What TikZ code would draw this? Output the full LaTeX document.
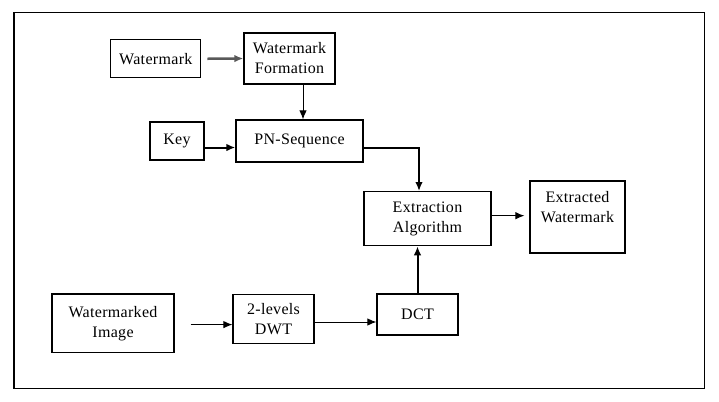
\documentclass[tikz,border=0pt]{standalone}
\usepackage{fontspec}
\setmainfont{Liberation Serif}[LetterSpace=2]
\usetikzlibrary{arrows.meta, positioning, calc}

\begin{document}
\begin{tikzpicture}[
        x=1pt, y=-1pt,
        block/.style={draw, line width=1.2pt, align=center, inner sep=0pt, font=\fontsize{16}{20}\selectfont},
        line/.style={line width=1pt},
        arr/.style={line, -{Latex[length=9pt, width=7.5pt]}},
        thickarr/.style={arr, line width=2pt},
        greyarr/.style={thickarr, draw=gray!70!black, line width=2.5pt}
    ]
        \useasboundingbox (0,0) rectangle (719,401);
        % -- outer frame --
        \draw[line width=1.2pt] (14,12.3) rectangle (704.3,388.3);

        % -- upper branch --
        \node[block, minimum width=90pt, minimum height=38pt] (wm)   at (155.8, 58.8) {Watermark};
        \node[block, minimum width=91pt, minimum height=51pt] (form) at (289.5, 58.5) {Watermark\\Formation};
        \node[block, minimum width=54pt, minimum height=38pt] (key)  at (177, 141)    {Key};
        \node[block, minimum width=127pt, minimum height=42pt] (pn)  at (299.5, 141)  {PN-Sequence};
        % -- extraction --
        \node[block, minimum width=127pt, minimum height=54pt] (ext) at (427.5, 218.7) {Extraction\\Algorithm};
        \node[block, minimum width=95pt, minimum height=72pt] (out)  at (577.5, 217)   {Extracted\\Watermark\\~};
        % -- lower branch --
        \node[block, minimum width=122pt, minimum height=58.7pt] (wmi) at (113, 323.3)   {Watermarked\\Image};
        \node[block, minimum width=81pt, minimum height=49pt]    (dwt) at (273.5, 318.8) {2-levels\\DWT};
        \node[block, minimum width=81pt, minimum height=41pt]    (dct) at (417.5, 314.5) {DCT};

        % upper arrows
        \draw[greyarr, shorten <=6pt] (wm.east) -- (form.west);
        \draw[arr] ([xshift=13.5pt]form.south) -- ([xshift=3.5pt]pn.north);
        \draw[thickarr] ([yshift=-6.5pt]key.east) -- ([yshift=-6.5pt]pn.west);

        % PN-Sequence -> extraction (horizontal then down)
        \draw[thickarr] ([yshift=-7pt]pn.east) -| ([xshift=-8.5pt]ext.north);
        \draw[arr, shorten >=5pt] ([yshift=3pt]ext.east) -- ([yshift=3pt]ext.east -| out.west);

        % lower arrows
        \draw[arr, shorten <=16pt] ([yshift=-1.3pt]wmi.east) -- ([yshift=-1.3pt]wmi.east -| dwt.west);
        \draw[arr] ([yshift=-3.2pt]dwt.east) -- ([yshift=-3.2pt]dwt.east -| dct.west);
        \draw[thickarr] (dct.north) -- (dct.north |- ext.south);
    \end{tikzpicture}
\end{document}
